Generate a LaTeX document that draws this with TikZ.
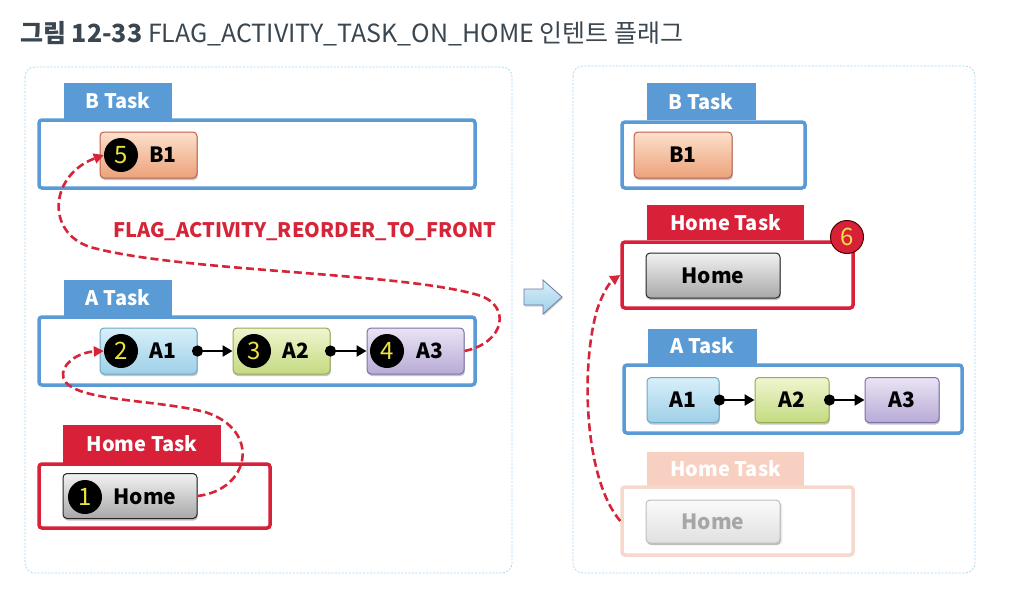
\documentclass[tikz,border=0pt]{standalone}
\usepackage{fontspec}
\setmainfont{Noto Sans CJK KR}
\usetikzlibrary{arrows.meta,shadows}
\definecolor{tblue}{RGB}{91,155,213}
\definecolor{tred}{RGB}{216,32,56}
\definecolor{fadetab}{RGB}{248,208,194}
\definecolor{fadebox}{RGB}{246,216,204}
\definecolor{panelc}{RGB}{168,212,238}
\definecolor{numyel}{RGB}{236,226,70}
\definecolor{flowred}{RGB}{214,36,56}
\definecolor{titlec}{RGB}{58,70,80}
\definecolor{a1top}{RGB}{216,239,249}\definecolor{a1bot}{RGB}{158,208,232}\definecolor{a1dr}{RGB}{110,168,198}
\definecolor{a2top}{RGB}{240,245,208}\definecolor{a2bot}{RGB}{196,218,128}\definecolor{a2dr}{RGB}{150,172,80}
\definecolor{a3top}{RGB}{234,228,244}\definecolor{a3bot}{RGB}{184,170,214}\definecolor{a3dr}{RGB}{128,112,168}
\definecolor{b1top}{RGB}{252,224,204}\definecolor{b1bot}{RGB}{236,162,122}\definecolor{b1dr}{RGB}{188,96,76}
\definecolor{hmtop}{RGB}{242,242,242}\definecolor{hmbot}{RGB}{168,168,168}
\tikzset{
  x=1pt, y=-1pt,
  panelbox/.style={draw=panelc, dash pattern=on 2pt off 1.5pt, rounded corners=10pt, line width=0.7pt, fill=white},
  taskbox/.style={draw=tblue, line width=3.5pt, rounded corners=3pt, fill=white, inner sep=0pt},
  tasktab/.style={fill=tblue, text=white, inner sep=0pt, font=\bfseries\fontsize{20}{20}\selectfont},
  actbox/.style={rounded corners=4pt, line width=1pt, minimum height=46pt, inner sep=0pt,
     drop shadow={shadow xshift=0.8pt, shadow yshift=-2pt, opacity=0.45}, font=\bfseries\fontsize{21}{21}\selectfont},
  orangeact/.style={actbox, draw=b1dr, top color=b1top, bottom color=b1bot},
  blueact/.style={actbox, draw=a1dr, top color=a1top, bottom color=a1bot},
  greenact/.style={actbox, draw=a2dr, top color=a2top, bottom color=a2bot},
  purpleact/.style={actbox, draw=a3dr, top color=a3top, bottom color=a3bot},
  grayact/.style={actbox, draw=black!85, top color=hmtop, bottom color=hmbot},
  fadeact/.style={actbox, draw=black!25, top color=black!2, bottom color=black!12, text=black!35, drop shadow={opacity=0.12, shadow yshift=-2pt}},
  numc/.style={circle, fill=black, text=numyel, minimum size=34pt, inner sep=0pt, font=\fontsize{24}{24}\selectfont},
  actlbl/.style={inner sep=0pt, font=\bfseries\fontsize{21}{21}\selectfont},
  link/.style={line width=2.5pt, {Circle[length=11pt]}-{Triangle[length=10pt,width=11pt]}, shorten <=-5.5pt},
  redflow/.style={draw=flowred, line width=2.6pt, dash pattern=on 8pt off 4pt, -{Triangle[length=10pt,width=10pt]}},
}
\begin{document}
\begin{tikzpicture}
\useasboundingbox (0,0) rectangle (1020,592);
\fill[white] (0,0) rectangle (1020,592);

\node[anchor=base west, inner sep=0pt, text=titlec, font=\fontsize{25}{25}\selectfont] (title) at (20,42)
  {\textbf{그림 12-33} FLAG\_ACTIVITY\_TASK\_ON\_HOME 인텐트 플래그};

% panels
\draw[panelbox] (25,67) rectangle (512,573);
\draw[panelbox] (573,66) rectangle (975,573);

% ---------- left panel ----------
\node[tasktab, minimum width=108pt, minimum height=37pt] (lbtab) at (118,101) {B Task};
\node[taskbox, minimum width=436pt, minimum height=68pt] (lbbox) at (257,154) {};
\node[orangeact, minimum width=97pt] (lb1) at (148.5,155) {};
\node[numc] (n5) at (121,155) {5};
\node[actlbl] (lb1t) at (163,155) {B1};

\node[text=flowred, inner sep=0pt, font=\bfseries\fontsize{20}{20}\selectfont] (flag) at (305,232) {FLAG\_ACTIVITY\_REORDER\_TO\_FRONT};

\node[tasktab, minimum width=108pt, minimum height=36pt] (latab) at (118,298) {A Task};
\node[taskbox, minimum width=436pt, minimum height=68pt] (labox) at (257,351) {};
\node[blueact, minimum width=97pt] (la1) at (148.5,351) {};
\node[greenact, minimum width=97pt] (la2) at (281.5,351) {};
\node[purpleact, minimum width=97pt] (la3) at (415.5,351) {};
\node[numc] (n2) at (121,351) {2};
\node[numc] (n3) at (254,351) {3};
\node[numc] (n4) at (387,351) {4};
\node[actlbl] (la1t) at (163,351) {A1};
\node[actlbl] (la2t) at (296,351) {A2};
\node[actlbl] (la3t) at (430,351) {A3};
\draw[link] (la1.east) -- (la2.west);
\draw[link] (la2.east) -- (la3.west);

\node[tasktab, fill=tred, minimum width=158pt, minimum height=38pt] (lhtab) at (142,444) {Home Task};
\node[taskbox, draw=tred, minimum width=231pt, minimum height=64pt] (lhbox) at (154.5,496) {};
\node[grayact, minimum width=134pt, minimum height=45pt] (lhome) at (130,496) {};
\node[numc] (n1) at (85,497) {1};
\node[actlbl] (lhomet) at (145,497) {Home};

% ---------- middle arrow ----------
\path[draw=cyan!30!blue!45!gray, line width=0.8pt, top color=a1top, bottom color=a1bot,
      drop shadow={shadow xshift=1pt, shadow yshift=-1.5pt, opacity=0.35}]
  (524,289) -- (543,289) -- (543,280) -- (562,297) -- (543,314) -- (543,305) -- (524,305) -- cycle;

% ---------- right panel ----------
\node[tasktab, minimum width=109pt, minimum height=37pt] (rbtab) at (701,101.5) {B Task};
\node[taskbox, minimum width=183pt, minimum height=66pt] (rbbox) at (713.5,155) {};
\node[orangeact, minimum width=98pt] (rb1) at (683,155) {B1};

\node[tasktab, fill=tred, minimum width=157pt, minimum height=35pt] (rhtab) at (725.5,222.5) {Home Task};
\node[taskbox, draw=tred, minimum width=231pt, minimum height=66pt] (rhbox) at (737.5,275) {};
\node[grayact, minimum width=134pt, minimum height=45pt] (rhome) at (713,275.5) {Home};
\node[numc, fill=tred, draw=black!70!red, line width=1pt, minimum size=33pt] (n6) at (847,237) {6};

\node[tasktab, minimum width=109pt, minimum height=35pt] (ratab) at (702.5,346) {A Task};
\node[taskbox, minimum width=338pt, minimum height=68pt] (rabox) at (793,399) {};
\node[blueact, minimum width=72pt, minimum height=45pt] (ra1) at (683,400) {A1};
\node[greenact, minimum width=74pt, minimum height=45pt] (ra2) at (792,400) {A2};
\node[purpleact, minimum width=74pt, minimum height=45pt] (ra3) at (902,400) {A3};
\draw[link] (ra1.east) -- (ra2.west);
\draw[link] (ra2.east) -- (ra3.west);

\node[tasktab, fill=fadetab, minimum width=157pt, minimum height=34pt] (fhtab) at (725.5,469) {Home Task};
\node[taskbox, draw=fadebox, minimum width=231pt, minimum height=68pt] (fhbox) at (737.5,521) {};
\node[fadeact, minimum width=134pt, minimum height=43pt] (fhome) at (713,521.5) {Home};

% ---------- red flows ----------
\draw[redflow] (lhome.east) .. controls (250,490) and (262,430) .. (205,412)
   .. controls (150,398) and (60,402) .. (63,373)
   .. controls (65,360) and (82,352) .. (n2.west);
\draw[redflow] (la3.east) .. controls (505,343) and (512,305) .. (478,295)
   .. controls (400,272) and (180,272) .. (90,247)
   .. controls (45,232) and (50,175) .. (n5.west);
\draw[redflow] (fhbox.west) .. controls (585,480) and (580,370) .. (597,310)
   .. controls (603,292) and (610,282) .. (rhbox.west);
\end{tikzpicture}
\end{document}
